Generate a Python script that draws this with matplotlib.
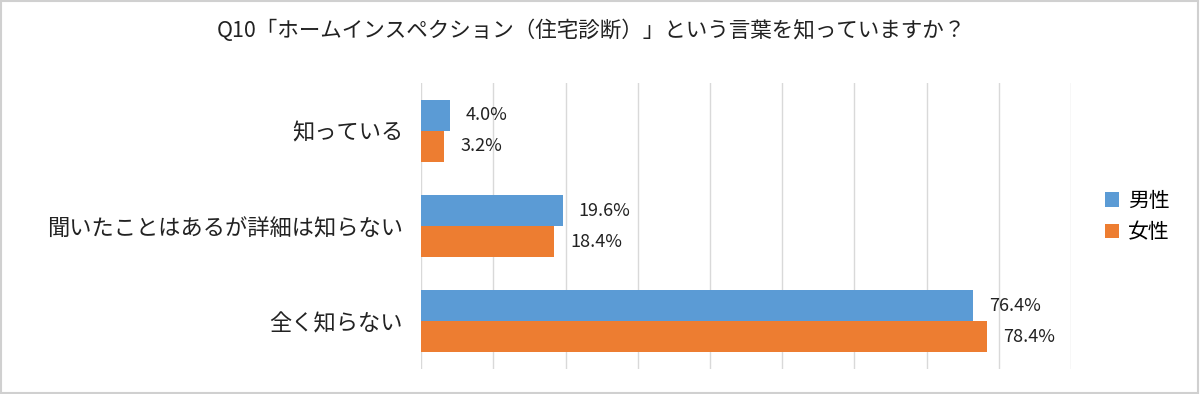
import matplotlib
matplotlib.use("Agg")
import matplotlib.pyplot as plt
import numpy as np

plt.rcParams['font.family'] = ['Noto Sans CJK JP', 'DejaVu Sans']

title = "Q10「ホームインスペクション（住宅診断）」という言葉を知っていますか？"
categories = ["知っている", "聞いたことはあるが詳細は知らない", "全く知らない"]
male = [4.0, 19.6, 76.4]
female = [3.2, 18.4, 78.4]
series_names = ["男性", "女性"]


def solve():
    fig = plt.figure(figsize=(12, 3.94), dpi=100)
    ax = fig.add_axes([0.351, 0.0635, 0.5415, 0.7255])

    y = np.arange(len(categories))
    h = 0.325
    ax.barh(y - h / 2, male, height=h, color="#5B9BD5", label=series_names[0], zorder=3)
    ax.barh(y + h / 2, female, height=h, color="#ED7D31", label=series_names[1], zorder=3)

    for i in range(len(categories)):
        ax.text(male[i] + 2.2, y[i] - h / 2, f"{male[i]:.1f}%", va="center", ha="left",
                fontsize=13, color="#222222")
        ax.text(female[i] + 2.2, y[i] + h / 2, f"{female[i]:.1f}%", va="center", ha="left",
                fontsize=13, color="#222222")

    ax.set_xlim(0, 90)
    ax.set_ylim(len(categories) - 0.5, -0.5)
    ax.set_xticks(np.arange(0, 91, 10))
    ax.set_xticklabels([])
    ax.tick_params(axis="x", length=0)
    ax.set_yticks(y)
    ax.set_yticklabels(categories, fontsize=16, color="#222222")
    ax.tick_params(axis="y", length=0, pad=13)
    ax.grid(axis="x", color="#D9D9D9", linewidth=1, zorder=0)
    for s in ax.spines.values():
        s.set_visible(False)

    fig.text(0.493, 0.922, title, ha="center", va="center", fontsize=15.5, color="#222222")

    fig.legend(loc="center left", bbox_to_anchor=(0.905, 0.45), frameon=False,
               fontsize=15, handlelength=0.7, handleheight=0.7, handletextpad=0.4,
               labelspacing=0.45)

    fig.patches.append(plt.Rectangle((0.001, 0.002), 0.997, 0.995, transform=fig.transFigure,
                                     fill=False, edgecolor="#D0D0D0", linewidth=1.5))

    fig.savefig("out.png", dpi=100)


def main():
    solve()


if __name__ == "__main__":
    main()
